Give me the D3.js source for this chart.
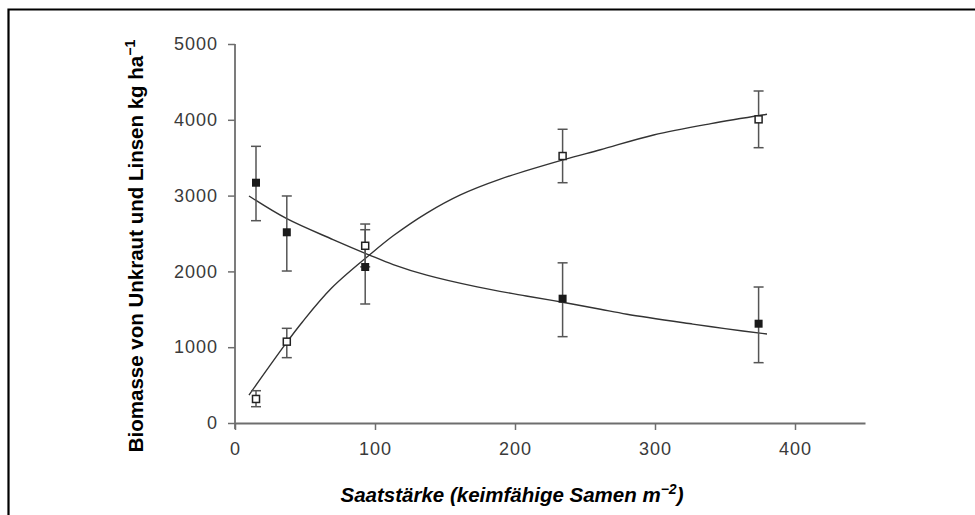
<!DOCTYPE html>
<html><head><meta charset="utf-8">
<script src="https://cdn.jsdelivr.net/npm/d3@7"></script>
<style>
html,body{margin:0;padding:0;background:#fff;}
svg{display:block;}
</style></head>
<body>
<svg id="chart" width="975" height="515"></svg>
<script>
// ---- data ----
const sowingRates = [15, 37, 93, 234, 374];            // Saatstärke
const weedMean   = [3170, 2516, 2058, 1640, 1310];     // Unkraut (filled)
const weedLow    = [2669, 2005, 1570, 1139, 796];
const weedHigh   = [3650, 2995, 2550, 2113, 1794];
const lentilMean = [317, 1073, 2338, 3522, 4006];      // Linsen (open)
const lentilLow  = [215, 862, 2060, 3170, 3632];
const lentilHigh = [426, 1249, 2625, 3875, 4380];

// fitted curves
const weedCurveX   = [10, 37, 70, 96, 113, 137, 173, 208, 235, 261, 280, 327, 350, 380];
const weedCurveY   = [2995, 2695, 2420, 2216, 2090, 1950, 1795, 1675, 1590, 1500, 1435, 1305, 1245, 1174];
const lentilCurveX = [10, 36, 48, 69, 96, 113, 137, 161, 189, 235, 261, 299, 340, 380];
const lentilCurveY = [369, 1040, 1330, 1780, 2216, 2470, 2770, 3010, 3215, 3475, 3605, 3800, 3950, 4073];

const xTicks = [0, 100, 200, 300, 400];
const yTicks = [0, 1000, 2000, 3000, 4000, 5000];

const xTitle = "Saatstärke (keimfähige Samen m";
const xTitleSup = "−2";
const yTitle = "Biomasse von Unkraut und Linsen kg ha";
const yTitleSup = "−1";

// ---- drawing ----
const svg = d3.select("#chart");
const x = d3.scaleLinear().domain([0, 450]).range([235, 865]);
const y = d3.scaleLinear().domain([0, 5000]).range([423, 44]);

// frame (top + left)
svg.append("path").attr("d", "M8.5,515 V9.5 H975")
  .attr("fill", "none").attr("stroke", "#000").attr("stroke-width", 2.2);

const axisColor = "#6e6e6e";
const labelColor = "#3a3a3a";

const gx = svg.append("g").attr("transform", `translate(0,${y(0)})`)
  .call(d3.axisBottom(x).tickValues(xTicks).tickFormat(d3.format("d"))
    .tickSize(7).tickPadding(12).tickSizeOuter(0));
const gy = svg.append("g").attr("transform", `translate(${x(0)},0)`)
  .call(d3.axisLeft(y).tickValues(yTicks).tickFormat(d3.format("d"))
    .tickSize(7).tickPadding(10).tickSizeOuter(0));

[gx, gy].forEach(g => {
  g.select(".domain").attr("stroke", axisColor).attr("stroke-width", 1.8);
  g.selectAll(".tick line").attr("stroke", axisColor).attr("stroke-width", 1.5);
  g.selectAll(".tick text").attr("fill", labelColor)
    .style("font-family", "'Liberation Sans', Arial, sans-serif")
    .style("font-size", "18px").style("letter-spacing", "1px");
});
gy.select(".domain").attr("d", `M0,${y(5000)}V${y(0) + 6}`);

// curves
const line = d3.line().x(d => x(d[0])).y(d => y(d[1])).curve(d3.curveCatmullRom.alpha(0.5));
svg.append("path").datum(d3.zip(weedCurveX, weedCurveY))
  .attr("d", line).attr("fill", "none").attr("stroke", "#333").attr("stroke-width", 1.4);
svg.append("path").datum(d3.zip(lentilCurveX, lentilCurveY))
  .attr("d", line).attr("fill", "none").attr("stroke", "#333").attr("stroke-width", 1.4);

// error bars
function errorBars(lows, highs) {
  const g = svg.append("g").attr("stroke", "#555").attr("stroke-width", 1.5);
  sowingRates.forEach((r, i) => {
    const cx = x(r);
    g.append("line").attr("x1", cx).attr("x2", cx).attr("y1", y(lows[i])).attr("y2", y(highs[i]));
    g.append("line").attr("x1", cx - 5).attr("x2", cx + 5).attr("y1", y(lows[i])).attr("y2", y(lows[i]));
    g.append("line").attr("x1", cx - 5).attr("x2", cx + 5).attr("y1", y(highs[i])).attr("y2", y(highs[i]));
  });
}
errorBars(weedLow, weedHigh);
errorBars(lentilLow, lentilHigh);

// markers
const s = 8;
svg.append("g").selectAll("rect").data(d3.zip(sowingRates, weedMean)).join("rect")
  .attr("x", d => x(d[0]) - s / 2).attr("y", d => y(d[1]) - s / 2)
  .attr("width", s).attr("height", s).attr("fill", "#1a1a1a");
const so = 7;
svg.append("g").selectAll("rect").data(d3.zip(sowingRates, lentilMean)).join("rect")
  .attr("x", d => x(d[0]) - so / 2).attr("y", d => y(d[1]) - so / 2)
  .attr("width", so).attr("height", so).attr("fill", "#fff")
  .attr("stroke", "#222").attr("stroke-width", 1.5);

// axis titles
const xt = svg.append("text").attr("x", 512).attr("y", 502).attr("text-anchor", "middle")
  .style("font-family", "'Liberation Sans', Arial, sans-serif")
  .style("font-size", "20.5px").style("font-weight", "bold").style("font-style", "italic")
  .attr("fill", "#000");
xt.append("tspan").text(xTitle);
xt.append("tspan").attr("dy", -8).style("font-size", "14px").text(xTitleSup);
xt.append("tspan").attr("dy", 8).text(")");

const yt = svg.append("text").attr("transform", "translate(143,246) rotate(-90)")
  .attr("text-anchor", "middle")
  .style("font-family", "'Liberation Sans', Arial, sans-serif")
  .style("font-size", "20.5px").style("font-weight", "bold").attr("fill", "#000");
yt.append("tspan").text(yTitle);
yt.append("tspan").attr("dy", -8).style("font-size", "14px").text(yTitleSup);
</script>
</body></html>
